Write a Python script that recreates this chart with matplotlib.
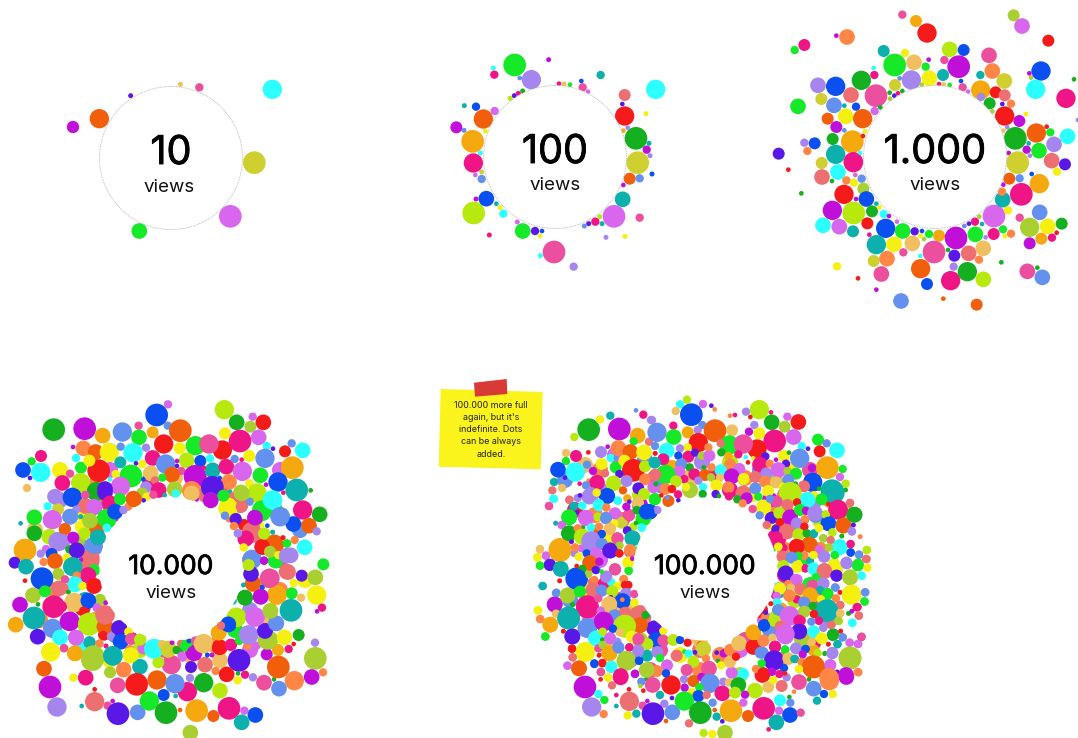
import matplotlib
matplotlib.use("Agg")
import matplotlib.pyplot as plt
import matplotlib.patheffects as path_effects
from matplotlib.patches import Circle, Polygon

plt.rcParams["font.family"] = ["Inter", "DejaVu Sans"]

# dot colours, keyed by the letter used in the dot lists below
palette = {
    "o": "#f25f0a", "p": "#bf0fd9", "c": "#2bffff", "y": "#d0cf30", "l": "#d867ee",
    "g": "#16e927", "P": "#eb4f9e", "H": "#f01586", "b": "#0a4ff0", "B": "#6490ee",
    "a": "#a585ee", "G": "#14b020", "t": "#0cb0ac", "r": "#f51b1b", "s": "#ee6f72",
    "A": "#f5a90f", "S": "#f0c060", "O": "#ff8644", "L": "#b8e90f", "K": "#a9d030",
    "Y": "#f5f010", "i": "#5a18e8",
}

# every dot list is (x, y, diameter, colour), read at 3x off a crop of the picture
dots_10 = [
    (697, 88, 58, "c"), (99, 201, 37, "p"), (178, 176, 58, "o"), (272, 107, 15, "i"),
    (421, 73, 15, "S"), (478, 82, 25, "P"), (643, 308, 68, "y"), (571, 469, 68, "l"),
    (298, 513, 47, "g"),
]

dots_100 = [
    (224, 75, 68, "g"), (274, 119, 58, "a"), (239, 114, 14, "B"), (160, 84, 15, "c"), (163, 104, 25, "H"),
    (326, 59, 15, "p"), (482, 105, 25, "t"), (647, 148, 58, "c"), (554, 165, 36, "s"), (547, 192, 14, "i"),
    (554, 228, 58, "r"), (618, 221, 15, "Y"), (627, 310, 15, "t"), (588, 295, 68, "G"), (593, 368, 68, "y"),
    (620, 329, 25, "p"), (630, 347, 15, "a"), (569, 416, 36, "o"), (599, 415, 25, "B"), (636, 402, 15, "b"),
    (550, 435, 14, "p"), (548, 478, 47, "t"), (522, 529, 68, "l"), (599, 533, 25, "P"), (479, 530, 15, "L"),
    (466, 545, 25, "H"), (486, 551, 15, "t"), (446, 551, 15, "i"), (433, 558, 15, "B"), (498, 592, 15, "a"),
    (555, 589, 15, "Y"), (342, 636, 68, "P"), (301, 647, 15, "c"), (401, 680, 25, "a"), (148, 585, 15, "H"),
    (248, 573, 47, "g"), (285, 573, 25, "i"), (306, 573, 14, "b"), (300, 588, 14, "Y"), (232, 546, 15, "l"),
    (190, 521, 25, "c"), (180, 503, 15, "Y"), (169, 491, 14, "t"), (101, 519, 68, "L"), (139, 476, 47, "b"),
    (108, 477, 15, "p"), (125, 417, 25, "B"), (125, 396, 15, "y"), (106, 405, 14, "l"), (100, 369, 58, "H"),
    (121, 339, 15, "c"), (98, 304, 68, "A"), (136, 273, 15, "Y"), (130, 237, 58, "o"), (164, 213, 25, "l"),
    (108, 200, 25, "b"), (73, 197, 15, "t"), (72, 271, 15, "B"), (49, 262, 36, "p"), (210, 175, 15, "L"),
    (223, 167, 15, "i"), (235, 160, 15, "H"), (248, 153, 15, "G"), (357, 131, 14, "H"), (372, 132, 15, "S"),
    (390, 134, 14, "g"), (428, 142, 25, "P"), (424, 123, 14, "b"), (444, 155, 14, "l"), (550, 272, 14, "A"),
    (563, 263, 14, "a"),
]

dots_1000_top = [
    (397, 44, 25, "P"), (438, 63, 36, "A"), (471, 99, 58, "r"), (731, 46, 36, "K"), (756, 78, 47, "l"),
    (835, 122, 36, "r"), (231, 111, 47, "O"), (199, 107, 14, "p"), (74, 150, 25, "g"), (103, 135, 36, "H"),
    (341, 153, 36, "t"), (405, 159, 25, "Y"), (374, 195, 68, "g"), (432, 187, 47, "S"), (476, 179, 14, "p"),
    (523, 180, 25, "P"), (539, 148, 47, "L"), (581, 150, 36, "b"), (566, 200, 68, "p"), (467, 200, 25, "g"),
    (657, 166, 47, "P"), (667, 213, 47, "O"), (631, 225, 25, "t"), (703, 243, 47, "y"), (783, 233, 14, "K"),
    (813, 213, 58, "b"), (778, 220, 14, "p"), (797, 268, 58, "c"), (912, 238, 14, "G"), (888, 295, 58, "H"),
    (311, 204, 14, "c"), (313, 225, 25, "H"), (274, 241, 58, "G"), (144, 256, 47, "a"), (197, 259, 58, "b"),
    (243, 285, 47, "s"), (318, 287, 68, "P"), (389, 235, 14, "B"), (424, 240, 58, "a"), (478, 235, 47, "Y"),
    (519, 225, 36, "t"), (375, 255, 36, "y"), (573, 243, 14, "b"), (455, 254, 14, "K"), (507, 252, 14, "H"),
    (521, 253, 14, "S"), (539, 255, 14, "g"), (578, 262, 25, "P"), (594, 275, 14, "l"), (632, 270, 58, "A"),
    (633, 291, 25, "a"), (677, 277, 36, "r"), (704, 286, 36, "s"), (659, 310, 36, "G"), (723, 311, 25, "O"),
    (697, 312, 14, "i"), (667, 334, 14, "K"), (704, 348, 58, "r"), (359, 278, 14, "G"), (384, 280, 14, "H"),
    (373, 287, 14, "i"), (397, 273, 14, "G"), (360, 296, 14, "K"), (154, 297, 36, "y"), (84, 319, 47, "g"),
    (192, 316, 47, "B"), (223, 317, 14, "t"), (258, 320, 25, "b"), (314, 333, 25, "l"), (331, 322, 14, "G"),
    (173, 356, 36, "o"), (227, 349, 47, "Y"), (278, 356, 58, "o"), (199, 381, 36, "p"), (223, 391, 14, "B"),
    (285, 394, 14, "Y"), (247, 425, 68, "A"), (279, 408, 14, "r"), (188, 417, 36, "G"), (103, 428, 25, "a"),
    (134, 430, 36, "b"), (112, 453, 25, "O"), (26, 461, 36, "i"), (197, 463, 58, "t"), (250, 485, 58, "H"),
    (270, 459, 14, "c"), (748, 363, 36, "p"), (768, 342, 14, "Y"), (712, 382, 14, "a"), (700, 392, 14, "S"),
    (736, 415, 68, "G"), (799, 399, 58, "o"), (830, 380, 14, "r"), (841, 397, 25, "g"), (776, 430, 14, "t"),
    (893, 409, 47, "c"), (852, 433, 47, "a"), (807, 452, 47, "g"), (770, 449, 25, "p"), (716, 459, 14, "p"),
    (780, 467, 14, "a"), (924, 360, 14, "a"),
]

dots_1000_bottom = [
    (743, 38, 68, "y"), (845, 32, 47, "s"), (885, 43, 36, "i"), (155, 39, 36, "y"), (156, 81, 47, "s"),
    (204, 66, 47, "c"), (250, 38, 58, "H"), (55, 59, 14, "r"), (94, 130, 14, "G"), (256, 75, 14, "l"),
    (229, 91, 25, "O"), (275, 86, 25, "B"), (252, 98, 25, "Y"), (280, 116, 36, "K"), (222, 133, 58, "r"),
    (289, 147, 47, "b"), (186, 93, 14, "G"), (258, 147, 14, "p"), (319, 161, 14, "t"), (306, 184, 36, "G"),
    (329, 172, 14, "Y"), (187, 181, 58, "p"), (251, 189, 68, "L"), (341, 192, 25, "c"), (357, 198, 14, "p"),
    (381, 215, 14, "l"), (159, 226, 47, "c"), (208, 230, 47, "l"), (249, 244, 36, "t"), (292, 220, 36, "r"),
    (298, 254, 14, "H"), (347, 235, 58, "b"), (398, 243, 47, "g"), (434, 244, 25, "i"), (456, 243, 14, "b"),
    (451, 257, 14, "Y"), (462, 267, 14, "K"), (477, 252, 25, "g"), (507, 257, 36, "A"), (319, 284, 58, "t"),
    (372, 283, 47, "Y"), (427, 280, 47, "S"), (400, 307, 25, "P"), (492, 306, 68, "P"), (558, 264, 68, "p"),
    (534, 300, 14, "G"), (451, 318, 14, "c"), (311, 333, 36, "y"), (351, 326, 47, "O"), (334, 372, 47, "P"),
    (201, 349, 25, "Y"), (264, 385, 14, "r"), (319, 419, 14, "p"), (393, 453, 47, "B"), (452, 356, 58, "o"),
    (471, 402, 36, "b"), (553, 317, 36, "i"), (596, 310, 47, "s"), (640, 295, 47, "S"), (627, 329, 25, "O"),
    (551, 350, 25, "a"), (542, 392, 58, "H"), (592, 365, 58, "G"), (640, 388, 47, "L"), (520, 446, 14, "o"),
    (620, 464, 36, "o"), (694, 337, 14, "G"), (772, 364, 47, "P"), (802, 353, 14, "G"), (817, 382, 47, "B"),
    (616, 253, 47, "g"), (671, 252, 36, "H"), (699, 238, 25, "g"), (705, 259, 14, "Y"), (723, 251, 25, "O"),
    (647, 262, 14, "a"), (672, 198, 68, "l"), (615, 215, 25, "H"), (636, 222, 14, "t"), (597, 221, 14, "i"),
    (583, 228, 14, "B"), (628, 200, 14, "K"), (714, 181, 25, "Y"), (698, 149, 47, "t"), (754, 133, 68, "H"),
    (696, 125, 25, "O"), (700, 104, 14, "p"), (718, 86, 36, "o"), (749, 85, 25, "B"), (808, 101, 58, "A"),
    (785, 72, 14, "b"), (861, 65, 25, "Y"), (809, 187, 47, "B"), (749, 203, 25, "P"), (779, 232, 58, "K"),
    (833, 229, 47, "Y"), (875, 221, 36, "G"), (860, 248, 14, "r"), (846, 263, 25, "H"), (814, 266, 36, "A"),
    (779, 280, 36, "p"),
]

# dots mostly hidden under the others, placed by eye, in whole-picture pixels
under_10000 = [
    (95, 485, "O"), (110, 470, "l"), (130, 475, "K"), (150, 480, "H"), (175, 478, "S"), (200, 480, "A"),
    (220, 490, "P"), (240, 505, "s"), (255, 520, "K"), (262, 540, "l"), (250, 560, "O"), (258, 585, "Y"),
    (250, 610, "a"), (235, 630, "g"), (215, 645, "O"), (190, 655, "S"), (165, 650, "P"), (140, 650, "L"),
    (115, 635, "B"), (95, 620, "A"), (85, 600, "t"), (82, 570, "s"), (80, 545, "K"), (85, 515, "Y"),
    (105, 500, "L"), (60, 500, "a"), (60, 540, "K"), (55, 590, "O"), (70, 620, "H"), (80, 650, "c"),
    (110, 660, "Y"), (250, 650, "l"), (270, 620, "S"), (280, 590, "O"), (280, 560, "P"), (275, 510, "g"),
    (60, 470, "Y"), (280, 470, "l"), (35, 530, "S"), (300, 530, "B"), (305, 580, "Y"), (40, 620, "O"),
]

under_100000 = [
    (600, 470, "O"), (615, 455, "l"), (628, 475, "Y"), (645, 460, "B"), (655, 478, "P"), (672, 468, "A"),
    (688, 478, "S"), (702, 462, "a"), (716, 475, "H"), (730, 462, "L"), (745, 478, "O"), (760, 470, "B"),
    (775, 480, "K"), (785, 495, "s"), (770, 500, "p"), (790, 515, "Y"), (780, 530, "P"), (800, 530, "a"),
    (785, 550, "O"), (800, 560, "g"), (785, 575, "H"), (795, 600, "L"), (780, 610, "A"), (770, 630, "B"),
    (755, 640, "S"), (740, 650, "l"), (720, 655, "O"), (700, 650, "s"), (680, 655, "Y"), (660, 650, "P"),
    (640, 640, "K"), (620, 625, "a"), (610, 605, "O"), (605, 585, "H"), (625, 610, "S"), (600, 560, "l"),
    (612, 540, "Y"), (622, 520, "s"), (640, 495, "L"), (660, 485, "B"), (640, 505, "p"), (690, 490, "K"),
    (730, 490, "H"), (750, 495, "Y"), (775, 515, "O"), (770, 545, "g"), (620, 600, "P"), (630, 625, "K"),
    (655, 640, "O"), (700, 640, "S"), (745, 640, "P"), (765, 620, "l"), (780, 590, "t"), (760, 610, "r"),
    (565, 480, "B"), (585, 465, "S"), (600, 490, "a"), (575, 510, "H"), (595, 515, "O"), (810, 470, "P"),
    (830, 500, "O"), (850, 515, "K"), (820, 520, "L"), (810, 500, "s"), (790, 470, "Y"), (560, 550, "K"),
    (590, 590, "Y"), (570, 600, "B"), (590, 620, "l"), (610, 650, "S"), (630, 660, "B"), (650, 670, "P"),
    (700, 670, "O"), (740, 675, "L"), (780, 660, "s"), (810, 640, "S"), (830, 620, "a"), (820, 600, "P"),
    (835, 570, "Y"), (820, 550, "O"), (810, 585, "g"),
]
under_diameter = 16

dots_10000_top = [
    (470, 75, 68, "b"), (504, 43, 25, "l"), (503, 107, 25, "B"), (673, 59, 58, "L"), (710, 97, 47, "G"),
    (758, 80, 25, "l"), (751, 110, 36, "K"), (790, 97, 47, "r"), (161, 119, 68, "G"), (254, 116, 68, "p"),
    (308, 137, 47, "A"), (367, 126, 58, "B"), (416, 107, 25, "P"), (458, 127, 36, "A"), (541, 122, 68, "o"),
    (417, 142, 47, "g"), (491, 162, 58, "r"), (539, 175, 36, "Y"), (586, 167, 58, "g"), (667, 180, 58, "r"),
    (627, 162, 58, "P"), (720, 153, 68, "H"), (675, 130, 36, "Y"), (776, 142, 47, "l"), (800, 168, 25, "c"),
    (819, 176, 14, "i"), (875, 160, 25, "B"), (855, 184, 36, "r"), (908, 181, 47, "c"), (250, 175, 47, "O"),
    (219, 171, 14, "p"), (287, 186, 47, "o"), (328, 187, 58, "Y"), (362, 170, 25, "B"), (399, 188, 58, "c"),
    (438, 173, 25, "a"), (123, 198, 36, "H"), (95, 214, 25, "g"), (228, 204, 25, "c"), (361, 217, 36, "t"),
    (427, 222, 25, "Y"), (458, 204, 47, "H"), (408, 220, 14, "i"), (497, 222, 58, "B"), (560, 211, 47, "L"),
    (531, 213, 14, "p"), (601, 213, 36, "b"), (630, 205, 25, "c"), (748, 198, 36, "Y"), (795, 205, 58, "B"),
    (877, 233, 68, "A"), (69, 240, 47, "b"), (122, 247, 58, "c"), (90, 264, 14, "i"), (210, 251, 25, "P"),
    (243, 233, 36, "g"), (296, 242, 68, "r"), (268, 212, 36, "Y"), (347, 252, 25, "Y"), (393, 258, 68, "g"),
    (452, 250, 47, "S"), (531, 228, 14, "i"), (544, 243, 25, "P"), (585, 259, 68, "p"), (516, 254, 47, "o"),
    (638, 241, 47, "t"), (679, 230, 47, "H"), (611, 233, 14, "H"), (727, 244, 58, "l"), (725, 209, 14, "H"),
    (704, 207, 25, "B"), (781, 256, 47, "g"), (834, 276, 58, "b"), (81, 294, 25, "S"), (187, 279, 47, "H"),
    (242, 278, 58, "L"), (330, 268, 14, "c"), (430, 268, 14, "b"), (487, 263, 25, "g"), (465, 271, 25, "s"),
    (687, 276, 47, "O"), (659, 264, 14, "b"), (748, 280, 25, "Y"), (890, 300, 68, "t"), (932, 301, 14, "G"),
    (289, 305, 58, "G"), (361, 289, 58, "l"), (315, 297, 47, "i"), (165, 320, 47, "a"), (217, 322, 58, "b"),
    (256, 315, 25, "P"), (438, 292, 36, "a"), (524, 298, 47, "K"), (476, 300, 47, "H"), (575, 302, 58, "O"),
    (617, 315, 47, "s"), (637, 292, 68, "i"), (723, 307, 47, "K"), (771, 309, 58, "L"), (798, 284, 14, "p"),
    (850, 308, 14, "H"), (690, 305, 14, "t"), (670, 318, 36, "g"), (527, 311, 25, "c"), (426, 310, 36, "K"),
    (440, 320, 25, "Y"), (460, 314, 25, "P"), (494, 315, 14, "t"), (400, 326, 47, "o"), (359, 327, 36, "g"),
    (632, 331, 47, "l"), (590, 328, 14, "p"), (698, 319, 25, "s"), (818, 331, 58, "c"), (749, 335, 25, "B"),
    (143, 349, 25, "c"), (174, 358, 36, "y"), (325, 340, 47, "P"), (256, 348, 47, "s"), (283, 351, 47, "p"),
    (385, 350, 25, "O"), (345, 365, 47, "b"), (370, 360, 25, "a"), (431, 331, 14, "i"), (698, 340, 25, "r"),
    (684, 355, 58, "Y"), (725, 349, 36, "s"), (785, 365, 58, "g"), (908, 360, 58, "H"), (103, 382, 47, "g"),
    (157, 389, 58, "l"), (211, 380, 47, "B"), (229, 358, 25, "a"), (320, 388, 58, "g"), (269, 392, 47, "K"),
    (242, 380, 14, "t"), (348, 387, 14, "p"), (766, 382, 47, "p"), (841, 380, 58, "B"), (880, 402, 47, "b"),
    (959, 373, 47, "G"), (62, 400, 14, "t"), (927, 407, 47, "o"), (950, 424, 25, "a"), (732, 405, 36, "r"),
    (675, 376, 25, "B"), (688, 385, 25, "O"), (707, 387, 36, "i"), (702, 408, 25, "S"), (802, 407, 14, "b"),
    (787, 406, 14, "Y"), (103, 430, 47, "G"), (148, 440, 47, "L"), (194, 418, 36, "o"), (240, 410, 25, "Y"),
    (290, 420, 47, "o"), (253, 430, 36, "L"), (321, 413, 25, "c"), (818, 426, 14, "t"), (219, 444, 36, "p"),
    (174, 455, 58, "a"), (280, 470, 58, "B"), (294, 442, 47, "t"), (713, 430, 25, "a"), (755, 430, 58, "s"),
    (736, 447, 47, "H"), (792, 431, 36, "K"), (850, 443, 14, "r"), (884, 450, 25, "O"), (861, 461, 25, "g"),
    (824, 463, 58, "O"), (914, 472, 47, "c"), (230, 481, 47, "i"), (75, 480, 68, "A"), (732, 472, 25, "Y"),
    (787, 471, 47, "r"), (872, 496, 47, "a"), (836, 495, 25, "Y"), (138, 477, 25, "l"), (122, 491, 25, "a"),
    (155, 492, 36, "b"), (165, 513, 47, "o"), (201, 503, 25, "Y"), (270, 505, 58, "s"), (222, 518, 36, "t"),
    (44, 518, 36, "i"), (78, 530, 47, "t"), (131, 516, 25, "O"), (757, 510, 47, "B"), (747, 523, 36, "K"),
    (792, 512, 25, "p"), (827, 512, 47, "g"), (970, 523, 36, "g"),
]

dots_10000_bottom = [
    (175, 42, 36, "K"), (126, 56, 68, "b"), (75, 62, 14, "r"), (177, 85, 47, "s"), (262, 46, 47, "H"),
    (231, 45, 25, "S"), (282, 30, 36, "g"), (225, 72, 47, "c"), (282, 77, 47, "r"), (247, 78, 25, "Y"),
    (205, 96, 14, "G"), (99, 106, 47, "K"), (135, 94, 36, "g"), (60, 134, 47, "p"), (114, 133, 14, "G"),
    (161, 140, 68, "H"), (248, 145, 47, "r"), (222, 128, 58, "S"), (264, 122, 47, "b"), (300, 120, 36, "K"),
    (317, 128, 14, "p"), (290, 144, 25, "l"), (102, 174, 68, "t"), (316, 198, 47, "o"), (315, 165, 58, "s"),
    (47, 194, 47, "A"), (158, 205, 58, "B"), (208, 184, 58, "p"), (266, 192, 68, "L"), (113, 230, 47, "i"),
    (180, 232, 47, "c"), (228, 233, 47, "l"), (312, 224, 36, "r"), (358, 205, 47, "i"), (333, 229, 25, "a"),
    (362, 244, 47, "b"), (397, 235, 36, "H"), (386, 214, 25, "Y"), (269, 247, 36, "t"), (298, 251, 25, "O"),
    (318, 258, 14, "H"), (192, 264, 25, "P"), (152, 276, 58, "Y"), (225, 280, 47, "A"), (277, 299, 68, "K"),
    (339, 288, 58, "t"), (392, 287, 47, "Y"), (390, 268, 25, "O"), (421, 238, 36, "L"), (430, 265, 36, "l"),
    (463, 265, 58, "c"), (486, 252, 25, "S"), (505, 265, 47, "y"), (516, 248, 14, "p"), (538, 272, 25, "G"),
    (544, 251, 25, "s"), (562, 257, 36, "g"), (568, 243, 14, "b"), (579, 278, 47, "p"), (586, 241, 25, "P"),
    (611, 251, 58, "S"), (659, 262, 47, "r"), (693, 254, 36, "H"), (718, 242, 25, "g"), (806, 240, 58, "K"),
    (745, 225, 58, "a"), (795, 213, 47, "i"), (853, 232, 47, "Y"), (896, 225, 36, "G"), (881, 252, 14, "r"),
    (945, 248, 25, "a"), (742, 257, 25, "O"), (770, 257, 25, "l"), (866, 267, 25, "H"), (834, 270, 36, "A"),
    (800, 283, 36, "p"), (946, 295, 68, "K"), (132, 326, 47, "o"), (371, 329, 47, "O"), (420, 320, 47, "t"),
    (330, 337, 36, "K"), (514, 314, 58, "P"), (475, 307, 36, "L"), (548, 293, 25, "l"), (573, 321, 36, "i"),
    (615, 314, 47, "s"), (660, 301, 47, "S"), (622, 285, 14, "b"), (636, 285, 14, "p"), (647, 333, 25, "O"),
    (717, 301, 68, "i"), (680, 343, 47, "r"), (714, 340, 14, "G"), (735, 344, 25, "H"), (759, 352, 25, "a"),
    (713, 361, 25, "Y"), (792, 368, 47, "P"), (822, 358, 14, "G"), (835, 321, 68, "o"), (883, 362, 58, "O"),
    (935, 351, 47, "p"), (969, 337, 25, "O"), (220, 353, 25, "Y"), (257, 353, 47, "H"), (150, 381, 68, "p"),
    (353, 376, 47, "P"), (471, 360, 58, "o"), (410, 373, 68, "r"), (562, 395, 58, "H"), (525, 371, 58, "B"),
    (570, 354, 25, "a"), (611, 368, 58, "G"), (660, 392, 47, "L"), (837, 386, 47, "B"), (491, 405, 36, "b"),
    (527, 408, 14, "t"), (284, 388, 14, "r"), (284, 425, 58, "s"), (171, 441, 58, "a"), (245, 438, 14, "t"),
    (323, 437, 25, "P"), (338, 423, 14, "p"), (354, 461, 68, "i"), (413, 457, 47, "B"), (448, 423, 58, "g"),
    (498, 458, 68, "G"), (540, 450, 14, "o"), (590, 452, 68, "A"), (640, 468, 36, "o"), (687, 445, 68, "H"),
    (733, 452, 25, "l"), (766, 465, 47, "b"), (725, 487, 47, "t"), (571, 518, 47, "K"), (746, 16, 36, "L"),
    (755, 42, 36, "i"), (864, 36, 47, "s"), (905, 47, 36, "i"), (946, 52, 47, "K"), (881, 69, 25, "Y"),
    (760, 73, 47, "O"), (810, 55, 58, "P"), (731, 75, 14, "t"), (787, 83, 14, "b"), (782, 110, 47, "p"),
    (735, 113, 47, "G"), (831, 105, 58, "A"), (875, 100, 36, "g"), (903, 113, 25, "S"), (950, 105, 58, "Y"),
    (966, 143, 25, "H"), (951, 154, 14, "p"), (873, 151, 68, "t"), (811, 153, 47, "K"), (765, 171, 58, "l"),
    (710, 172, 58, "L"), (686, 193, 47, "b"), (663, 197, 25, "s"), (656, 218, 47, "A"), (829, 190, 47, "B"),
]

# the ring right round the white disc of the 10.000 panel
dots_10000_ring = [
    (37, 25, 47, "b"), (75, 15, 25, "P"), (135, 8, 47, "i"), (80, 50, 36, "s"), (103, 50, 47, "l"),
    (150, 40, 47, "H"), (180, 28, 36, "g"), (222, 28, 47, "o"), (30, 80, 47, "B"), (140, 85, 58, "g"),
    (165, 65, 47, "b"), (190, 60, 25, "a"), (62, 110, 36, "Y"), (90, 92, 47, "K"), (73, 130, 36, "L"),
    (62, 80, 14, "t"), (15, 117, 36, "o"), (140, 113, 25, "c"), (8, 155, 47, "a"), (40, 143, 36, "p"),
    (100, 168, 47, "B"), (113, 142, 47, "t"), (28, 178, 25, "G"), (50, 181, 47, "i"), (20, 204, 25, "Y"),
    (95, 215, 47, "s"), (63, 209, 14, "p"), (38, 230, 58, "t"), (102, 240, 36, "g"), (85, 255, 47, "H"),
    (102, 288, 47, "r"), (50, 257, 25, "O"), (45, 283, 47, "c"), (67, 288, 25, "Y"), (15, 268, 25, "P"),
    (8, 295, 36, "s"), (25, 306, 14, "G"), (42, 337, 58, "S"), (120, 330, 36, "K"), (85, 332, 47, "b"),
    (3, 350, 36, "H"), (30, 394, 58, "p"), (70, 362, 25, "r"), (137, 338, 14, "p"), (111, 352, 25, "l"),
    (88, 402, 68, "L"), (133, 410, 47, "o"), (135, 375, 58, "s"), (177, 414, 47, "i"), (130, 435, 25, "r"),
    (153, 439, 25, "a"), (48, 443, 47, "l"), (5, 445, 36, "c"), (182, 455, 47, "b"), (205, 425, 25, "Y"),
    (213, 447, 36, "P"), (240, 449, 36, "L"), (88, 457, 36, "t"), (118, 461, 25, "O"), (138, 468, 14, "H"),
    (12, 475, 25, "P"), (45, 490, 47, "A"), (100, 500, 68, "K"), (158, 497, 58, "t"), (208, 478, 25, "O"),
    (212, 495, 47, "Y"), (281, 477, 58, "c"), (306, 463, 25, "S"), (325, 480, 47, "y"), (336, 458, 14, "p"),
    (350, 480, 25, "G"), (364, 461, 25, "s"), (378, 467, 36, "g"), (387, 453, 14, "b"), (403, 490, 47, "p"),
    (405, 452, 25, "P"), (430, 461, 58, "S"), (442, 495, 14, "b"), (456, 495, 14, "p"), (479, 472, 47, "r"),
    (365, 497, 25, "l"), (512, 465, 36, "H"), (537, 452, 25, "g"), (622, 450, 58, "K"), (566, 435, 58, "a"),
    (615, 423, 47, "i"), (476, 428, 47, "A"), (528, 382, 58, "L"), (505, 403, 47, "b"), (483, 407, 25, "s"),
    (585, 381, 58, "l"), (648, 400, 47, "B"), (631, 363, 47, "K"), (650, 315, 58, "A"), (602, 320, 47, "p"),
    (628, 265, 58, "P"), (578, 280, 47, "o"), (576, 208, 58, "B"), (573, 252, 47, "i"), (566, 225, 36, "L"),
    (555, 323, 47, "G"), (518, 332, 25, "t"), (575, 125, 58, "s"), (558, 145, 47, "H"), (642, 163, 58, "o"),
    (607, 171, 47, "r"), (612, 131, 36, "L"), (638, 127, 14, "t"), (605, 60, 58, "g"), (585, 83, 47, "p"),
    (637, 30, 58, "c"), (660, 80, 58, "B"), (505, 52, 58, "Y"), (545, 50, 36, "s"), (527, 87, 36, "i"),
    (495, 77, 25, "B"), (522, 108, 25, "O"), (534, 130, 25, "a"), (668, 143, 14, "r"), (680, 160, 25, "g"),
    (551, 172, 25, "Y"), (630, 185, 36, "K"), (655, 195, 25, "Y"), (612, 212, 25, "p"), (680, 197, 47, "a"),
    (680, 245, 47, "s"), (550, 285, 14, "t"), (606, 291, 14, "b"), (452, 31, 47, "p"), (490, 17, 36, "g"),
    (545, 10, 47, "K"), (395, 10, 47, "S"),
]

dots_100000_left = [
    (476, 179, 68, "G"), (568, 177, 68, "p"), (510, 148, 25, "Y"), (541, 137, 25, "t"), (433, 201, 25, "L"),
    (618, 121, 14, "B"), (640, 134, 25, "H"), (663, 150, 25, "a"), (680, 185, 47, "b"), (623, 197, 47, "A"),
    (611, 214, 25, "g"), (565, 234, 47, "O"), (657, 215, 25, "s"), (408, 249, 25, "S"), (438, 258, 36, "H"),
    (475, 247, 14, "r"), (513, 246, 36, "a"), (533, 230, 14, "p"), (542, 264, 25, "c"), (601, 246, 47, "o"),
    (642, 247, 47, "Y"), (675, 228, 25, "B"), (676, 250, 14, "r"), (408, 273, 25, "g"), (515, 282, 36, "Y"),
    (471, 284, 25, "B"), (557, 292, 36, "g"), (583, 272, 36, "Y"), (558, 264, 14, "B"), (384, 299, 47, "b"),
    (436, 306, 58, "c"), (489, 303, 25, "p"), (610, 301, 68, "r"), (645, 289, 36, "L"), (525, 310, 25, "s"),
    (568, 312, 25, "i"), (405, 323, 14, "i"), (372, 336, 25, "t"), (449, 341, 14, "H"), (476, 332, 14, "O"),
    (501, 338, 47, "H"), (551, 340, 47, "L"), (590, 333, 36, "a"), (645, 328, 36, "O"), (676, 315, 36, "s"),
    (367, 361, 25, "s"), (396, 354, 25, "S"), (468, 346, 25, "B"), (500, 368, 25, "Y"), (579, 361, 25, "o"),
    (625, 355, 36, "i"), (670, 352, 36, "l"), (678, 342, 14, "G"), (372, 387, 25, "c"), (418, 389, 25, "s"),
    (443, 384, 25, "a"), (478, 380, 47, "a"), (450, 376, 14, "i"), (530, 378, 47, "b"), (642, 372, 36, "L"),
    (592, 385, 25, "A"), (675, 387, 36, "g"), (357, 408, 25, "P"), (431, 408, 25, "t"), (456, 408, 25, "c"),
    (507, 406, 36, "c"), (528, 411, 25, "O"), (563, 392, 25, "c"), (598, 395, 14, "i"), (623, 400, 36, "S"),
    (660, 425, 47, "b"), (682, 420, 25, "a"), (450, 418, 14, "r"), (441, 427, 14, "i"), (418, 442, 47, "g"),
    (468, 443, 47, "l"), (503, 441, 25, "Y"), (528, 443, 36, "B"), (555, 431, 36, "l"), (597, 436, 36, "H"),
    (620, 421, 25, "G"), (377, 460, 14, "t"), (396, 465, 25, "l"), (484, 473, 25, "c"), (575, 458, 36, "y"),
    (610, 470, 25, "L"), (640, 445, 47, "g"), (636, 473, 25, "c"), (417, 490, 47, "G"), (445, 476, 25, "O"),
    (459, 472, 14, "G"), (539, 476, 36, "S"), (500, 477, 25, "o"), (592, 481, 25, "i"), (458, 500, 47, "L"),
    (487, 515, 58, "a"), (515, 492, 25, "b"), (563, 505, 36, "P"), (608, 505, 47, "t"), (423, 514, 14, "i"),
    (642, 495, 14, "Y"), (390, 538, 68, "A"), (515, 522, 36, "B"), (568, 526, 25, "K"), (330, 537, 25, "S"),
    (322, 561, 25, "Y"), (348, 557, 25, "l"), (433, 549, 25, "a"), (497, 549, 36, "l"), (541, 541, 47, "i"),
    (568, 550, 25, "r"), (600, 545, 36, "P"), (455, 535, 25, "l"), (625, 540, 25, "g"), (500, 570, 25, "p"),
]

dots_100000_right = [
    (111, 29, 25, "L"), (90, 43, 25, "c"), (159, 42, 25, "l"), (184, 47, 14, "i"), (194, 58, 14, "O"),
    (77, 63, 25, "S"), (124, 74, 68, "b"), (328, 59, 58, "L"), (288, 65, 25, "a"), (240, 77, 14, "O"),
    (255, 75, 14, "H"), (363, 67, 14, "H"), (301, 81, 14, "r"), (365, 97, 47, "G"), (412, 80, 25, "l"),
    (445, 96, 47, "r"), (404, 110, 36, "K"), (313, 105, 25, "a"), (6, 90, 25, "a"), (70, 107, 25, "H"),
    (157, 105, 25, "B"), (21, 127, 58, "B"), (113, 127, 36, "A"), (143, 120, 25, "a"), (195, 122, 68, "o"),
    (246, 121, 36, "S"), (297, 125, 25, "p"), (328, 130, 36, "Y"), (374, 153, 68, "H"), (431, 141, 47, "l"),
    (71, 141, 47, "g"), (145, 158, 58, "r"), (238, 165, 58, "g"), (321, 177, 58, "r"), (280, 162, 58, "P"),
    (504, 149, 36, "g"), (530, 160, 25, "B"), (509, 184, 36, "r"), (561, 181, 47, "c"), (455, 168, 25, "c"),
    (474, 176, 14, "i"), (50, 182, 47, "c"), (113, 172, 25, "Y"), (90, 175, 25, "a"), (15, 190, 14, "r"),
    (115, 200, 36, "H"), (135, 188, 25, "i"), (155, 197, 25, "K"), (178, 197, 36, "l"), (175, 172, 25, "O"),
    (212, 160, 25, "s"), (214, 187, 25, "G"), (235, 198, 25, "A"), (265, 193, 25, "H"), (287, 201, 14, "c"),
    (310, 205, 14, "Y"), (346, 199, 25, "i"), (402, 198, 36, "Y"), (417, 188, 14, "G"), (378, 209, 14, "p"),
    (449, 205, 58, "B"), (40, 208, 36, "H"), (14, 218, 36, "t"), (85, 197, 25, "b"), (94, 223, 36, "B"),
    (240, 224, 36, "O"), (330, 224, 47, "H"), (359, 221, 25, "O"), (294, 217, 14, "r"), (408, 221, 25, "i"),
    (532, 233, 68, "A"), (578, 237, 25, "g"), (486, 234, 25, "p"), (119, 232, 25, "G"), (88, 245, 36, "l"),
    (47, 253, 58, "g"), (16, 254, 36, "s"), (133, 253, 36, "H"), (165, 255, 36, "o"), (161, 232, 14, "G"),
    (185, 232, 25, "O"), (212, 241, 36, "c"), (210, 263, 25, "S"), (268, 237, 36, "l"), (349, 250, 36, "a"),
    (385, 240, 47, "l"), (413, 243, 25, "K"), (438, 251, 36, "g"), (245, 259, 47, "p"), (281, 267, 36, "Y"),
    (316, 261, 36, "s"), (103, 267, 25, "H"), (78, 274, 36, "L"), (183, 262, 25, "K"), (345, 275, 36, "O"),
    (378, 277, 36, "S"), (415, 270, 36, "B"), (488, 277, 58, "b"), (570, 261, 25, "l"), (437, 281, 14, "G"),
    (587, 281, 25, "L"), (46, 297, 36, "O"), (17, 282, 14, "G"), (145, 272, 25, "a"), (66, 297, 25, "r"),
    (108, 291, 25, "Y"), (159, 291, 25, "c"), (199, 286, 36, "Y"), (235, 292, 36, "O"), (280, 310, 47, "s"),
    (316, 295, 36, "B"), (354, 303, 36, "Y"), (399, 291, 25, "Y"), (462, 289, 36, "s"), (546, 302, 68, "t"),
    (587, 300, 14, "G"), (507, 296, 14, "G"), (14, 328, 36, "g"), (34, 316, 14, "r"), (55, 333, 36, "o"),
    (52, 323, 14, "B"), (84, 313, 25, "H"), (85, 331, 14, "i"), (158, 312, 25, "G"), (197, 312, 25, "i"),
    (207, 318, 14, "G"), (237, 319, 25, "H"), (262, 328, 25, "G"), (290, 325, 36, "p"), (325, 320, 25, "g"),
    (425, 310, 58, "K"), (470, 330, 47, "c"), (491, 316, 25, "Y"), (441, 337, 25, "r"), (278, 340, 25, "O"),
    (361, 327, 25, "B"), (412, 345, 36, "s"), (515, 330, 25, "g"), (341, 352, 47, "Y"), (308, 357, 25, "P"),
    (564, 360, 58, "H"), (600, 339, 25, "s"), (537, 341, 14, "r"), (500, 345, 25, "a"), (468, 362, 25, "p"),
    (388, 368, 36, "L"), (420, 380, 47, "p"), (497, 375, 47, "B"), (527, 373, 25, "L"), (614, 374, 47, "G"),
    (329, 376, 25, "B"), (362, 385, 36, "i"), (465, 389, 25, "r"), (535, 400, 47, "b"), (580, 406, 47, "o"),
    (610, 405, 14, "i"), (606, 425, 25, "a"), (631, 440, 14, "O"), (576, 438, 14, "G"), (358, 408, 25, "Y"),
    (440, 402, 36, "a"), (377, 417, 25, "i"), (462, 410, 25, "o"), (506, 415, 25, "Y"), (410, 421, 47, "s"),
    (380, 445, 58, "H"), (349, 407, 14, "S"), (490, 433, 25, "t"), (445, 433, 36, "L"), (470, 430, 25, "G"),
    (547, 428, 25, "L"), (520, 445, 25, "g"), (538, 472, 25, "K"), (508, 478, 25, "l"), (569, 471, 47, "c"),
    (601, 463, 25, "P"), (651, 480, 25, "L"), (602, 488, 25, "b"), (627, 494, 25, "B"), (650, 507, 25, "s"),
    (555, 495, 25, "g"), (522, 500, 36, "a"), (441, 470, 47, "r"), (477, 463, 47, "o"), (400, 473, 25, "H"),
    (385, 470, 25, "Y"), (398, 500, 36, "s"), (425, 505, 25, "B"), (462, 497, 25, "A"), (490, 495, 25, "Y"),
    (625, 517, 25, "g"), (555, 517, 25, "Y"), (480, 512, 25, "t"), (443, 520, 25, "Y"),
]

dots_100000_bottom = [
    (59, 15, 36, "i"), (30, 17, 25, "g"), (92, 26, 47, "t"), (140, 56, 68, "b"), (38, 78, 25, "t"),
    (89, 62, 14, "r"), (157, 27, 25, "G"), (178, 10, 36, "o"), (200, 30, 25, "B"), (175, 42, 25, "K"),
    (229, 50, 36, "l"), (255, 28, 36, "H"), (296, 30, 25, "g"), (243, 66, 25, "c"), (282, 57, 25, "O"),
    (295, 75, 25, "r"), (262, 78, 25, "Y"), (186, 65, 25, "s"), (214, 92, 36, "B"), (79, 98, 25, "B"),
    (113, 106, 47, "K"), (149, 94, 36, "g"), (278, 122, 47, "b"), (242, 111, 14, "i"), (276, 118, 14, "O"),
    (288, 101, 36, "a"), (313, 128, 25, "Y"), (74, 133, 47, "p"), (127, 132, 14, "G"), (172, 141, 68, "H"),
    (238, 133, 47, "S"), (212, 152, 25, "l"), (25, 151, 25, "Y"), (31, 177, 25, "O"), (80, 160, 25, "S"),
    (116, 174, 68, "t"), (61, 194, 47, "A"), (100, 213, 14, "r"), (46, 230, 25, "g"), (172, 205, 58, "B"),
    (222, 185, 58, "p"), (253, 165, 36, "B"), (285, 157, 36, "s"), (310, 155, 25, "K"), (330, 196, 47, "o"),
    (330, 170, 68, "s"), (347, 165, 25, "G"), (284, 199, 68, "L"), (372, 205, 47, "i"), (248, 206, 25, "b"),
    (269, 216, 25, "S"), (127, 229, 47, "i"), (198, 235, 47, "c"), (217, 215, 25, "L"), (240, 235, 36, "l"),
    (378, 240, 47, "b"), (400, 213, 25, "Y"), (400, 242, 36, "P"), (126, 266, 25, "r"), (166, 277, 58, "Y"),
    (220, 257, 25, "K"), (238, 281, 47, "A"), (265, 263, 36, "B"), (298, 262, 25, "H"), (325, 238, 36, "P"),
    (325, 272, 36, "a"), (352, 252, 36, "L"), (289, 303, 58, "K"), (351, 287, 36, "t"), (327, 302, 25, "b"),
    (382, 276, 36, "a"), (390, 294, 25, "g"), (430, 240, 36, "L"), (450, 240, 25, "b"), (473, 248, 25, "r"),
    (512, 255, 25, "o"), (520, 267, 47, "y"), (495, 277, 14, "i"), (463, 275, 14, "g"), (476, 281, 25, "c"),
    (440, 287, 36, "s"), (490, 305, 36, "L"), (528, 296, 25, "O"), (564, 303, 14, "G"), (560, 278, 14, "i"),
    (581, 280, 25, "p"), (600, 270, 36, "O"), (627, 250, 47, "S"), (670, 261, 47, "r"), (700, 242, 36, "O"),
    (735, 260, 36, "H"), (767, 230, 47, "a"), (808, 213, 47, "i"), (851, 214, 36, "c"), (873, 236, 36, "Y"),
    (910, 223, 36, "G"), (932, 214, 14, "r"), (938, 232, 25, "B"), (923, 252, 25, "t"), (959, 248, 25, "a"),
    (994, 231, 25, "H"), (985, 252, 25, "l"), (895, 253, 14, "r"), (860, 253, 25, "H"), (850, 270, 36, "A"),
    (884, 281, 14, "G"), (907, 279, 36, "a"), (960, 294, 68, "K"), (921, 336, 14, "i"), (900, 316, 36, "l"),
    (985, 337, 25, "O"), (949, 351, 47, "p"), (898, 362, 58, "O"), (851, 321, 68, "o"), (827, 267, 25, "b"),
    (765, 268, 25, "g"), (692, 278, 36, "B"), (795, 297, 25, "t"), (731, 303, 58, "i"), (775, 297, 36, "S"),
    (815, 306, 25, "O"), (807, 327, 25, "Y"), (762, 324, 25, "b"), (726, 335, 25, "p"), (697, 345, 47, "r"),
    (678, 327, 25, "O"), (639, 342, 36, "c"), (605, 338, 36, "l"), (537, 326, 47, "P"), (600, 306, 36, "S"),
    (618, 290, 25, "r"), (573, 316, 25, "Y"), (411, 316, 36, "l"), (470, 330, 36, "P"), (381, 333, 36, "O"),
    (357, 320, 25, "L"), (315, 342, 25, "p"), (272, 352, 47, "H"), (234, 353, 25, "Y"), (213, 336, 25, "P"),
    (217, 310, 25, "r"), (207, 286, 14, "r"), (193, 312, 25, "b"), (147, 325, 47, "O"), (128, 292, 25, "s"),
    (113, 317, 25, "l"), (244, 321, 36, "c"), (349, 357, 14, "G"), (212, 358, 14, "r"), (165, 381, 68, "p"),
    (246, 376, 25, "s"), (334, 365, 25, "B"), (368, 375, 47, "P"), (331, 378, 14, "K"), (462, 358, 25, "a"),
    (423, 375, 58, "r"), (490, 363, 36, "o"), (514, 351, 25, "p"), (408, 340, 25, "b"), (540, 370, 58, "B"),
    (508, 382, 25, "g"), (580, 365, 25, "a"), (597, 367, 25, "S"), (625, 375, 47, "G"), (675, 392, 47, "L"),
    (715, 381, 36, "S"), (755, 378, 36, "s"), (770, 352, 25, "a"), (730, 360, 25, "Y"), (577, 400, 47, "H"),
    (615, 398, 36, "L"), (645, 404, 25, "p"), (485, 397, 25, "Y"), (464, 383, 25, "p"), (505, 408, 36, "b"),
    (530, 405, 25, "s"), (807, 366, 47, "P"), (837, 358, 14, "G"), (851, 386, 47, "B"), (792, 395, 14, "O"),
    (882, 402, 25, "b"), (908, 402, 25, "Y"), (778, 411, 14, "G"), (205, 402, 25, "c"), (223, 420, 25, "g"),
    (259, 405, 14, "H"), (297, 388, 14, "r"), (340, 392, 14, "r"), (390, 405, 25, "t"), (352, 423, 14, "p"),
    (298, 424, 58, "s"), (185, 441, 58, "a"), (259, 438, 14, "t"), (221, 462, 25, "O"), (293, 466, 25, "Y"),
    (319, 461, 25, "t"), (338, 437, 25, "P"), (403, 431, 25, "a"), (426, 414, 14, "i"), (369, 461, 68, "i"),
    (427, 457, 47, "B"), (463, 423, 58, "g"), (511, 458, 68, "G"), (548, 428, 25, "B"), (554, 450, 14, "o"),
    (560, 470, 25, "t"), (577, 484, 14, "i"), (408, 483, 14, "o"), (477, 490, 25, "s"), (603, 452, 68, "A"),
    (640, 428, 25, "l"), (654, 468, 36, "o"), (701, 445, 68, "H"), (750, 421, 36, "c"), (747, 452, 25, "l"),
    (781, 428, 25, "B"), (861, 422, 25, "t"), (780, 465, 47, "b"), (812, 458, 25, "P"), (739, 487, 47, "t"),
    (716, 508, 14, "H"), (521, 519, 25, "L"), (547, 522, 25, "Y"), (585, 518, 47, "K"), (760, 18, 36, "L"),
    (801, 20, 36, "Y"), (825, 25, 25, "H"), (850, 25, 36, "c"), (767, 42, 36, "i"), (800, 60, 36, "l"),
    (851, 78, 25, "P"), (857, 50, 25, "g"), (883, 33, 47, "s"), (913, 13, 36, "Y"), (950, 10, 36, "a"),
    (984, 15, 36, "g"), (920, 47, 36, "i"), (995, 47, 25, "c"), (961, 52, 47, "y"), (750, 85, 36, "Y"),
    (778, 107, 36, "O"), (845, 105, 47, "A"), (880, 70, 36, "a"), (917, 83, 25, "B"), (893, 100, 25, "g"),
    (870, 90, 25, "t"), (930, 97, 14, "r"), (964, 105, 58, "Y"), (1006, 97, 25, "B"), (1003, 124, 25, "g"),
    (875, 119, 25, "Y"), (800, 118, 25, "H"), (823, 127, 36, "B"), (735, 106, 25, "H"), (742, 127, 25, "c"),
    (722, 131, 14, "r"), (745, 152, 36, "b"), (848, 138, 25, "G"), (931, 135, 25, "s"), (889, 150, 68, "t"),
    (983, 141, 25, "H"), (957, 160, 14, "G"), (966, 153, 14, "p"), (987, 167, 25, "s"), (967, 188, 25, "c"),
    (931, 160, 25, "S"), (822, 155, 36, "K"), (852, 162, 25, "r"), (866, 182, 25, "H"), (927, 183, 25, "L"),
    (779, 168, 58, "l"), (810, 181, 36, "P"), (707, 158, 14, "i"), (704, 172, 25, "O"), (735, 170, 36, "L"),
    (703, 195, 36, "b"), (670, 217, 47, "A"), (753, 200, 36, "s"), (815, 236, 47, "K"), (880, 203, 25, "l"),
    (905, 194, 25, "O"),
]

# left flank of the 100.000 panel, read closer
dots_100000_flank_l = [
    (57, 48, 25, "P"), (118, 30, 25, "s"), (70, 26, 25, "c"), (131, 48, 25, "t"), (157, 47, 25, "c"),
    (117, 82, 47, "g"), (95, 105, 25, "l"), (77, 99, 14, "t"), (117, 130, 47, "G"), (143, 115, 25, "O"),
    (168, 85, 47, "l"), (183, 15, 47, "a"), (232, 18, 47, "b"), (200, 8, 25, "Y"), (206, 45, 36, "c"),
    (229, 53, 25, "O"), (203, 80, 25, "L"), (264, 32, 25, "c"), (255, 70, 36, "l"), (297, 75, 36, "P"),
    (324, 38, 36, "S"), (289, 50, 25, "p"), (320, 60, 25, "G"), (350, 65, 47, "b"), (228, 85, 36, "B"),
    (318, 99, 14, "G"), (253, 100, 25, "Y"), (291, 122, 25, "i"), (240, 116, 36, "S"), (207, 110, 25, "O"),
    (183, 112, 25, "c"), (215, 132, 25, "b"), (155, 140, 47, "L"), (183, 153, 58, "a"), (215, 162, 36, "B"),
    (262, 145, 36, "P"), (268, 167, 25, "K"), (307, 145, 47, "t"), (335, 113, 25, "c"), (30, 178, 25, "S"),
    (48, 197, 25, "l"), (22, 203, 25, "Y"), (125, 155, 14, "i"), (135, 172, 25, "O"), (90, 182, 68, "A"),
    (60, 224, 36, "i"), (30, 227, 25, "g"), (92, 237, 47, "t"), (170, 190, 25, "b"), (146, 200, 25, "Y"),
    (198, 190, 36, "l"), (240, 182, 47, "i"), (268, 190, 25, "r"), (300, 180, 36, "O"), (180, 219, 47, "o"),
    (208, 215, 25, "p"), (157, 237, 25, "G"), (197, 240, 25, "i"), (295, 217, 36, "Y"), (307, 206, 14, "p"),
    (296, 243, 25, "g"), (255, 238, 36, "P"), (228, 260, 36, "a"), (140, 228, 14, "r"), (215, 245, 14, "g"),
    (193, 270, 25, "O"), (280, 268, 25, "O"), (38, 288, 25, "t"), (89, 273, 14, "r"), (140, 265, 58, "b"),
    (190, 300, 47, "s"), (262, 288, 25, "Y"), (285, 285, 25, "r"), (78, 310, 25, "B"), (112, 317, 47, "K"),
    (150, 305, 36, "g"), (215, 302, 36, "B"), (247, 304, 36, "L"), (288, 312, 36, "a"), (313, 312, 25, "P"),
    (243, 322, 14, "i"), (74, 344, 47, "p"), (23, 361, 25, "Y"), (128, 344, 14, "G"), (172, 350, 68, "H"),
    (205, 325, 25, "P"), (278, 333, 47, "b"), (277, 329, 14, "O"), (313, 339, 25, "Y"), (238, 342, 47, "S"),
    (30, 387, 25, "O"), (78, 371, 25, "S"), (116, 384, 68, "t"), (212, 362, 25, "l"), (285, 368, 36, "s"),
    (253, 376, 36, "B"), (100, 424, 14, "r"), (61, 404, 47, "A"), (172, 414, 58, "B"), (221, 394, 58, "p"),
    (330, 375, 58, "s"), (347, 375, 25, "G"), (330, 405, 47, "o"), (46, 439, 25, "g"), (127, 440, 47, "i"),
    (284, 408, 68, "L"), (249, 416, 25, "b"), (198, 445, 47, "c"), (218, 425, 25, "L"), (217, 449, 14, "G"),
    (240, 445, 36, "l"), (270, 427, 25, "S"), (305, 440, 36, "Y"), (325, 447, 36, "P"), (262, 455, 25, "a"),
    (325, 482, 36, "a"), (166, 485, 58, "Y"), (126, 476, 25, "r"), (128, 502, 25, "s"), (205, 475, 25, "P"),
    (218, 465, 25, "K"), (208, 495, 14, "r"), (238, 490, 47, "A"), (265, 472, 36, "B"), (298, 472, 25, "H"),
    (193, 520, 25, "b"), (217, 519, 25, "r"), (112, 527, 25, "l"), (147, 535, 47, "o"), (289, 512, 58, "K"),
    (244, 530, 36, "c"), (212, 546, 25, "P"), (234, 562, 25, "Y"), (272, 558, 47, "H"), (315, 551, 25, "p"),
    (350, 540, 47, "K"), (327, 512, 25, "b"),
]

# right flank of the 100.000 panel, read closer
dots_100000_flank_r = [
    (90, 10, 68, "L"), (220, 8, 68, "t"), (15, 50, 36, "Y"), (283, 74, 47, "G"), (234, 58, 58, "H"),
    (270, 39, 25, "s"), (162, 16, 25, "Y"), (143, 30, 47, "c"), (111, 37, 25, "r"), (50, 35, 36, "P"),
    (82, 45, 36, "s"), (30, 27, 25, "B"), (35, 83, 36, "i"), (58, 69, 36, "L"), (90, 82, 47, "p"),
    (120, 60, 36, "g"), (138, 62, 25, "p"), (165, 70, 47, "a"), (197, 74, 25, "L"), (185, 28, 36, "g"),
    (205, 42, 14, "r"), (205, 98, 36, "b"), (250, 107, 47, "o"), (280, 105, 14, "i"), (275, 123, 25, "a"),
    (300, 140, 14, "O"), (245, 138, 14, "G"), (272, 162, 25, "H"), (320, 180, 25, "L"), (238, 172, 47, "c"),
    (272, 187, 25, "b"), (297, 194, 25, "B"), (318, 207, 25, "s"), (293, 226, 36, "g"), (322, 233, 25, "Y"),
    (259, 218, 36, "a"), (222, 223, 36, "Y"), (224, 195, 25, "g"), (20, 105, 25, "s"), (60, 97, 25, "r"),
    (110, 100, 36, "a"), (135, 88, 25, "O"), (133, 110, 25, "r"), (47, 117, 25, "i"), (80, 125, 47, "s"),
    (50, 142, 36, "H"), (115, 133, 36, "L"), (140, 130, 25, "G"), (162, 130, 25, "t"), (177, 115, 25, "Y"),
    (217, 127, 25, "L"), (150, 165, 47, "o"), (110, 170, 47, "r"), (190, 145, 25, "K"), (212, 150, 25, "s"),
    (177, 177, 25, "l"), (207, 172, 25, "K"), (193, 200, 36, "a"), (133, 197, 25, "O"), (160, 195, 25, "Y"),
    (115, 197, 25, "g"), (68, 200, 36, "s"), (95, 203, 36, "B"), (55, 170, 25, "Y"), (112, 230, 36, "Y"),
    (137, 235, 25, "H"), (70, 228, 36, "L"), (160, 237, 36, "c"), (193, 243, 47, "s"), (77, 250, 47, "i"),
    (168, 262, 25, "g"), (229, 257, 36, "i"), (108, 270, 36, "l"), (120, 297, 36, "s"), (158, 287, 36, "P"),
    (85, 282, 25, "O"), (270, 262, 47, "K"), (305, 257, 25, "c"), (190, 280, 36, "a"), (225, 292, 25, "B"),
    (240, 307, 14, "r"), (275, 313, 58, "Y"), (180, 300, 25, "t"), (203, 312, 36, "g"), (315, 307, 25, "B"),
    (314, 335, 25, "g"), (60, 296, 36, "Y"), (92, 293, 25, "S"), (150, 315, 47, "A"), (88, 317, 36, "O"),
    (50, 318, 25, "l"), (228, 325, 25, "O"), (183, 328, 25, "Y"), (50, 337, 25, "c"), (290, 352, 25, "H"),
    (240, 345, 25, "s"), (133, 338, 36, "B"), (33, 341, 14, "r"), (200, 362, 68, "t"), (158, 348, 25, "G"),
    (133, 365, 36, "K"), (275, 364, 14, "p"), (265, 370, 14, "G"), (296, 377, 25, "s"), (240, 370, 25, "S"),
    (55, 360, 36, "B"), (88, 378, 58, "l"), (162, 372, 25, "r"), (17, 368, 14, "i"), (42, 392, 36, "L"),
    (118, 392, 36, "H"), (177, 392, 25, "H"), (235, 392, 25, "K"), (277, 399, 25, "c"), (12, 407, 36, "b"),
    (62, 410, 36, "s"), (154, 395, 25, "B"), (118, 425, 47, "i"), (190, 413, 25, "a"), (213, 405, 25, "s"),
    (10, 452, 36, "O"), (75, 432, 58, "l"), (160, 425, 36, "c"), (37, 443, 25, "S"), (218, 435, 36, "G"),
    (242, 423, 14, "r"), (248, 442, 25, "B"), (305, 440, 25, "P"), (185, 445, 36, "Y"), (45, 470, 36, "H"),
    (155, 456, 25, "S"), (232, 463, 25, "t"), (269, 458, 25, "l"), (293, 462, 25, "l"), (205, 462, 14, "r"),
    (8, 488, 36, "B"), (76, 480, 25, "g"), (108, 475, 36, "a"), (136, 477, 25, "b"), (173, 489, 25, "L"),
    (195, 490, 14, "G"), (217, 489, 36, "a"), (270, 504, 68, "K"), (42, 510, 58, "i"), (128, 493, 25, "p"),
    (85, 505, 36, "S"), (103, 507, 25, "t"), (125, 516, 25, "O"), (160, 530, 68, "o"), (117, 537, 25, "Y"),
    (211, 525, 36, "l"), (35, 545, 25, "p"), (58, 552, 25, "H"), (75, 550, 14, "r"), (10, 550, 36, "r"),
    (232, 546, 14, "i"), (258, 555, 47, "p"), (293, 546, 25, "O"), (207, 563, 58, "O"), (5, 520, 25, "g"),
]

# which crop of the picture each dot list was read from: list, crop left, crop top
dot_groups = [
    (dots_10, 40, 60), (dots_100, 440, 40),
    (dots_1000_top, 770, 0), (dots_1000_bottom, 770, 150),
    (dots_10000_top, 0, 390), (dots_10000_bottom, 0, 560), (dots_10000_ring, 60, 490),
    (dots_100000_left, 430, 370), (dots_100000_right, 650, 390), (dots_100000_bottom, 530, 560),
    (dots_100000_flank_l, 530, 490), (dots_100000_flank_r, 760, 490),
]

counts = ["10", "100", "1.000", "10.000", "100.000"]
centres = [(171, 158), (555, 157), (935, 157), (171, 569), (705, 569)]
has_ring = [True, True, True, False, False]

note_lines = ["100.000 more full", "again, but it's", "indefinite. Dots", "can be always", "added."]

fig = plt.figure(figsize=(10.78, 7.38), dpi=100)
ax = fig.add_axes([0, 0, 1, 1])
ax.set_xlim(0, 1078)
ax.set_ylim(738, 0)
ax.axis("off")

for x, y, c in under_10000 + under_100000:
    ax.add_patch(Circle((x, y), under_diameter / 2, fc=palette[c], lw=0, zorder=1))

for dots, left, top in dot_groups:
    for x, y, d, c in dots:
        ax.add_patch(Circle((left + x / 3, top + y / 3), d / 6, fc=palette[c], lw=0, zorder=2))

# slightly heavier strokes than the regular weight gives
heavier = [path_effects.withStroke(linewidth=0.6, foreground="black")]

for count, (cx, cy), ring in zip(counts, centres, has_ring):
    ax.add_patch(Circle((cx, cy), 71.5, fc="white", lw=0, zorder=3))
    if ring:
        ax.add_patch(Circle((cx, cy), 71.5, fc="none", ec="#b0b0b0", lw=0.6, ls=(0, (1, 1)), zorder=4))
        t = ax.text(cx, cy - 4.5, count, fontsize=28.5, ha="center", va="center", color="black", zorder=5)
        ax.text(cx - 2 if len(count) < 3 else cx, cy + 29, "views", fontsize=13.5, ha="center", va="center", color="#111111", zorder=5)
    else:
        t = ax.text(cx, cy - 2, count, fontsize=19, ha="center", va="center", color="black", zorder=5)
        ax.text(cx, cy + 24, "views", fontsize=13.5, ha="center", va="center", color="#111111", zorder=5)
    t.set_path_effects(heavier)

# sticky note
ax.add_patch(Polygon([(440.7, 389), (542.7, 392), (540.7, 469.3), (438.7, 466.7)], fc="#fbf31c", lw=0, zorder=2))
ax.add_patch(Polygon([(474, 382.7), (506.7, 379), (507.3, 394), (475, 396.7)], fc="#d83a35", lw=0, zorder=3))
for i, line in enumerate(note_lines):
    ax.text(491, 405 + i * 12.3, line, fontsize=6.4, ha="center", va="center", color="#222222", zorder=4)

fig.savefig("out.png", dpi=100)
